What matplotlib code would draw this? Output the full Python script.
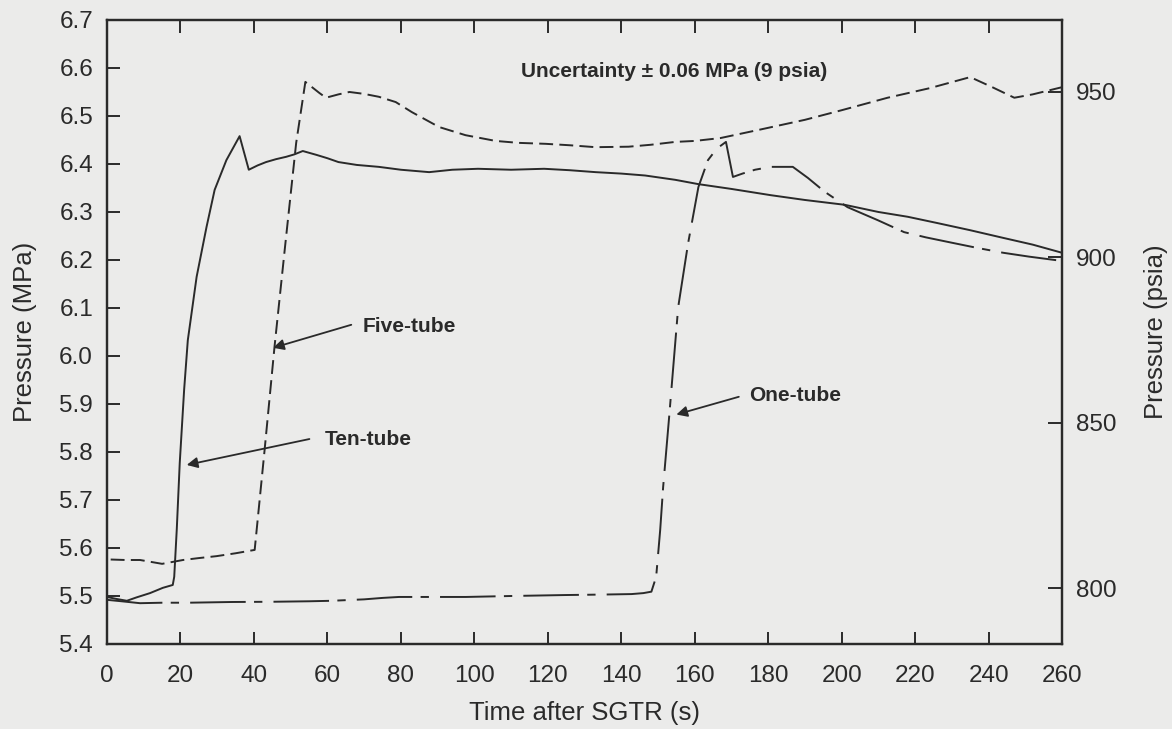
import matplotlib
matplotlib.use("Agg")
import matplotlib.pyplot as plt

plt.rcParams["font.family"] = ["Liberation Sans", "DejaVu Sans"]
plt.rcParams["lines.scale_dashes"] = False

ink = "#2a2a2a"
paper = "#ebebea"
MPA_PER_PSI = 0.006894757

# time after SGTR (s) and pressure (MPa) for each rupture case
ten_t = [0, 2.5, 5.4, 8, 11.7, 15.2, 17.9, 18.3, 19, 19.8, 21, 22, 24.4, 27.1,
         29.3, 32.5, 36.1, 38.6, 41, 43.3, 46, 48.8, 51, 53.3, 57, 60, 63, 68,
         74, 80, 87.7, 94, 101, 110, 119, 126, 133, 140, 146.5, 154.7, 161, 170,
         180.7, 190, 200.8, 210, 218, 226, 235, 244, 252, 260]
ten_p = [5.498, 5.494, 5.490, 5.497, 5.506, 5.517, 5.523, 5.540, 5.640, 5.777,
         5.930, 6.033, 6.165, 6.269, 6.346, 6.408, 6.458, 6.388, 6.397, 6.404,
         6.410, 6.415, 6.420, 6.427, 6.419, 6.412, 6.404, 6.398, 6.394, 6.388,
         6.383, 6.388, 6.390, 6.388, 6.390, 6.387, 6.383, 6.380, 6.376, 6.367,
         6.358, 6.348, 6.335, 6.325, 6.315, 6.300, 6.290, 6.277, 6.262, 6.246,
         6.232, 6.215]

five_t = [1, 5, 9, 15, 20.7, 25, 29.8, 35, 40.2, 42.9, 45.6, 48.5, 51.5, 54,
          57.8, 59.6, 63, 66, 70, 74, 78.6, 83, 90.4, 97.6, 105.8, 112, 119.4,
          126, 133, 142, 148, 154.7, 160, 167, 178, 190, 200, 212.5, 224, 235,
          241, 247, 252, 260]
five_p = [5.576, 5.575, 5.575, 5.567, 5.575, 5.579, 5.583, 5.589, 5.596, 5.804,
          6.019, 6.230, 6.444, 6.571, 6.548, 6.538, 6.545, 6.550, 6.546, 6.540,
          6.529, 6.508, 6.477, 6.460, 6.448, 6.444, 6.442, 6.439, 6.435, 6.436,
          6.440, 6.446, 6.448, 6.454, 6.472, 6.492, 6.512, 6.538, 6.558, 6.581,
          6.560, 6.538, 6.545, 6.560]

one_t = [0, 4, 9, 15, 22, 34, 45, 55, 61, 70, 75, 79.5, 88, 97.7, 110, 124.8,
         135, 142.8, 146, 148.2, 149.5, 150.6, 151.4, 153, 155.5, 158.2, 161,
         163.6, 166, 168.5, 170.4, 173, 176.4, 180.7, 186.7, 190.8, 195.4,
         201.6, 209.8, 217, 223, 230.6, 237, 244, 251, 260]
one_p = [5.492, 5.489, 5.485, 5.486, 5.486, 5.4875, 5.488, 5.489, 5.490, 5.493,
         5.496, 5.498, 5.498, 5.498, 5.500, 5.502, 5.503, 5.504, 5.506, 5.509,
         5.540, 5.638, 5.727, 5.870, 6.102, 6.235, 6.352, 6.408, 6.432, 6.446,
         6.373, 6.380, 6.388, 6.394, 6.394, 6.371, 6.342, 6.310, 6.283, 6.258,
         6.247, 6.235, 6.225, 6.215, 6.207, 6.198]

x_ticks = list(range(0, 261, 20))
y_ticks = [5.4 + 0.1 * i for i in range(14)]
psia_ticks = [800, 850, 900, 950]

fig = plt.figure(figsize=(11.72, 7.29), dpi=100, facecolor=paper)
ax = fig.add_axes([0.0913, 0.1166, 0.8149, 0.856], facecolor=paper)

ax.plot(ten_t, ten_p, color=ink, lw=1.4, ls="-")
ax.plot(five_t, five_p, color=ink, lw=1.4, ls=(0, (10, 4.5)))
ax.plot(one_t, one_p, color=ink, lw=1.4, ls=(0, (40, 6, 6, 8)))

ax.set_xlim(0, 260)
ax.set_ylim(5.4, 6.7)
ax.set_xticks(x_ticks)
ax.set_yticks(y_ticks)
ax.set_yticklabels([f"{v:.1f}" for v in y_ticks])
ax.tick_params(axis="x", direction="in", length=9, width=1.4, color=ink,
               top=True, labelsize=17.5, labelcolor=ink, pad=15)
ax.tick_params(axis="y", direction="in", length=9, width=1.4, color=ink,
               right=False, labelsize=17.5, labelcolor=ink, pad=10)
for s in ax.spines.values():
    s.set_color(ink)
    s.set_linewidth(1.6)

ax.set_xlabel("Time after SGTR (s)", fontsize=18.5, color=ink, labelpad=10)
ax.set_ylabel("Pressure (MPa)", fontsize=18.5, color=ink, labelpad=16)

# right hand scale in psia
ax2 = ax.twinx()
ax2.set_ylim(5.4 / MPA_PER_PSI, 6.7 / MPA_PER_PSI)
ax2.set_yticks(psia_ticks)
ax2.tick_params(axis="y", direction="in", length=10, width=1.4, color=ink,
                labelsize=17.5, labelcolor=ink, pad=10)
ax2.set_ylabel("Pressure (psia)", fontsize=18.5, color=ink, labelpad=20)
for s in ax2.spines.values():
    s.set_color(ink)
    s.set_linewidth(1.6)

note = dict(fontsize=15, fontweight="bold", color=ink, va="center")
ax.text(154.5, 6.592, "Uncertainty \u00b1 0.06 MPa (9 psia)", ha="center",
        **note)

arrow = dict(arrowstyle="-|>", color=ink, lw=1.3, mutation_scale=16,
             shrinkA=0, shrinkB=0)
ax.annotate("", xy=(45.2, 6.017), xytext=(66.5, 6.065), arrowprops=arrow)
ax.text(69.5, 6.062, "Five-tube", ha="left", **note)
ax.annotate("", xy=(21.7, 5.773), xytext=(55.1, 5.827), arrowprops=arrow)
ax.text(59.2, 5.827, "Ten-tube", ha="left", **note)
ax.annotate("", xy=(155.0, 5.878), xytext=(172.0, 5.915), arrowprops=arrow)
ax.text(174.8, 5.917, "One-tube", ha="left", **note)

fig.savefig("out.png", dpi=100, facecolor=paper)
